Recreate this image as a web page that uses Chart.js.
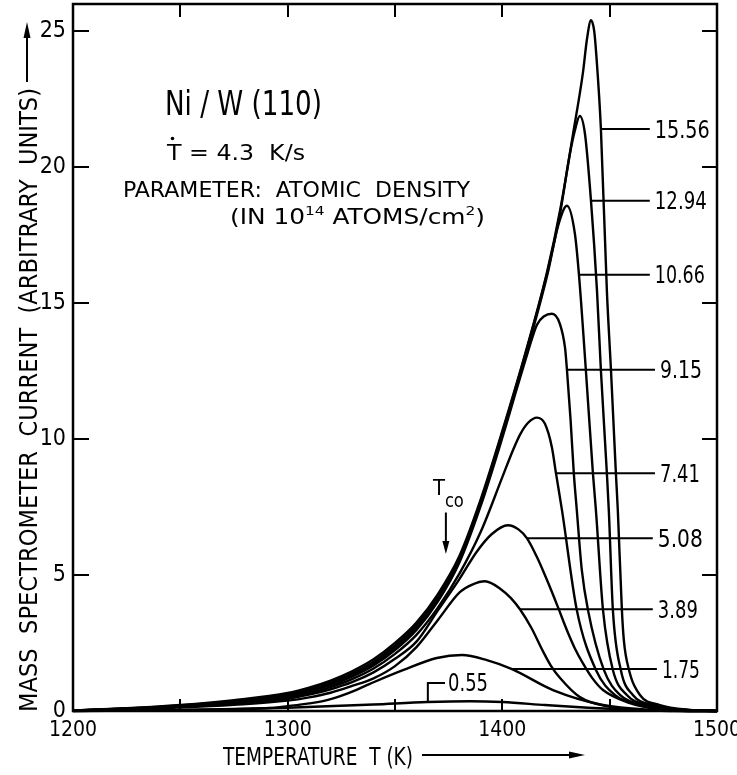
<!DOCTYPE html>
<html>
<head>
<meta charset="utf-8">
<script src="https://cdn.jsdelivr.net/npm/chart.js@4.4.1/dist/chart.umd.min.js"></script>
<style>
  html, body { margin: 0; padding: 0; background: #fff; }
  #c { display: block; }
</style>
</head>
<body>
<canvas id="c" width="737" height="775"></canvas>
<script>
// Thermal desorption spectra of Ni from W(110); heating rate 4.3 K/s.
// One curve per initial Ni coverage (10^14 atoms/cm^2).
const coverages = ['15.56', '12.94', '10.66', '9.15', '7.41', '5.08', '3.89', '1.75', '0.55'];

const t1556 = [1200, 1225, 1250, 1275, 1300, 1310, 1320, 1330, 1340, 1350, 1360, 1370, 1380, 1390, 1400, 1410.5, 1421, 1427, 1433, 1437.5, 1439.5, 1441.3, 1442.8, 1443.8, 1445.9, 1448.7, 1450.6, 1452.9, 1453.8, 1455.7, 1456.6, 1459.0, 1464.1, 1473.4, 1487.4, 1500];
const i1556 = [0.02, 0.10, 0.22, 0.40, 0.66, 0.86, 1.12, 1.46, 1.90, 2.50, 3.25, 4.30, 5.70, 7.80, 10.30, 13.10, 16.20, 18.45, 21.25, 23.45, 24.75, 25.40, 25.00, 24.10, 21.44, 15.45, 12.55, 8.74, 7.38, 3.71, 2.61, 1.51, 0.59, 0.22, 0.04, 0.0];

const t1294 = [1200, 1225, 1250, 1275, 1300, 1310, 1320, 1330, 1340, 1350, 1360, 1370, 1380, 1390, 1400, 1410.5, 1421, 1427, 1431.5, 1433.8, 1436.1, 1438.5, 1441.3, 1444.1, 1445.9, 1448.7, 1449.6, 1451.5, 1455.2, 1460.8, 1470.1, 1486.4, 1500];
const i1294 = [0.02, 0.09, 0.20, 0.37, 0.61, 0.80, 1.05, 1.38, 1.81, 2.40, 3.15, 4.20, 5.62, 7.73, 10.24, 13.05, 16.15, 18.35, 20.50, 21.35, 21.88, 21.22, 18.76, 15.45, 12.55, 8.74, 7.38, 3.71, 1.51, 0.59, 0.22, 0.04, 0.0];

const t1066 = [1200, 1225, 1250, 1275, 1300, 1310, 1320, 1330, 1340, 1350, 1360, 1370, 1380, 1390, 1400, 1410.5, 1421, 1426.0, 1430.1, 1433.8, 1435.7, 1438.9, 1442.2, 1443.6, 1446.9, 1451.5, 1458.0, 1467.8, 1485.0, 1500];
const i1066 = [0.02, 0.09, 0.19, 0.35, 0.58, 0.76, 1.00, 1.32, 1.74, 2.32, 3.07, 4.12, 5.55, 7.66, 10.17, 12.98, 16.05, 17.85, 18.58, 17.55, 16.04, 12.55, 8.74, 7.38, 3.71, 1.51, 0.59, 0.22, 0.04, 0.0];

const t915 = [1200, 1225, 1250, 1275, 1300, 1310, 1320, 1330, 1340, 1350, 1360, 1370, 1380, 1390, 1400, 1407.3, 1411.5, 1416.1, 1419.5, 1423.1, 1426.8, 1429.2, 1430.1, 1431.8, 1433.3, 1434.7, 1437.0, 1439.9, 1447.3, 1454.8, 1466.4, 1482.7, 1500];
const i915 = [0.02, 0.08, 0.18, 0.33, 0.55, 0.72, 0.95, 1.26, 1.67, 2.24, 2.98, 4.03, 5.46, 7.56, 10.05, 12.00, 13.10, 14.20, 14.52, 14.61, 14.24, 13.36, 12.55, 10.70, 8.74, 7.38, 5.20, 3.71, 1.51, 0.59, 0.22, 0.04, 0.0];

const t741 = [1200, 1225, 1250, 1275, 1300, 1310, 1320, 1330, 1340, 1350, 1360, 1370, 1380, 1390, 1400, 1405, 1408.5, 1412, 1416.1, 1419.8, 1423.1, 1425.0, 1427.8, 1434.7, 1443.6, 1452.4, 1464.1, 1480.4, 1500];
const i741 = [0.02, 0.08, 0.17, 0.31, 0.50, 0.66, 0.88, 1.17, 1.56, 2.10, 2.80, 3.80, 5.05, 6.60, 8.60, 9.60, 10.20, 10.60, 10.79, 10.57, 9.69, 8.74, 7.38, 3.71, 1.51, 0.59, 0.22, 0.04, 0.0];

const t508 = [1200, 1225, 1250, 1275, 1300, 1310, 1320, 1330, 1340, 1350, 1360, 1370, 1380, 1388, 1395, 1402.6, 1407.5, 1411.5, 1416.5, 1422.2, 1426, 1430.1, 1433.8, 1437.5, 1442, 1446.9, 1459.4, 1472.0, 1487.4, 1500];
const i508 = [0.01, 0.07, 0.16, 0.28, 0.45, 0.60, 0.80, 1.06, 1.42, 1.92, 2.55, 3.70, 4.85, 5.85, 6.50, 6.83, 6.68, 6.35, 5.60, 4.55, 3.80, 2.97, 2.30, 1.76, 1.20, 0.77, 0.29, 0.07, 0.0, 0.0];

const t389 = [1200, 1225, 1250, 1275, 1300, 1310, 1320, 1330, 1340, 1350, 1360, 1370, 1380.2, 1386.0, 1391.9, 1399.0, 1404.0, 1408.2, 1413.5, 1418.9, 1422.5, 1426.8, 1436.1, 1450.1, 1462.7, 1478.1, 1500];
const i389 = [0.01, 0.06, 0.13, 0.23, 0.38, 0.50, 0.67, 0.92, 1.20, 1.65, 2.35, 3.35, 4.37, 4.65, 4.77, 4.50, 4.15, 3.74, 3.06, 2.20, 1.68, 1.22, 0.51, 0.15, 0.04, 0.0, 0.0];

const t175 = [1200, 1250, 1275, 1291.8, 1300, 1310, 1318.3, 1328, 1338.3, 1353.7, 1369.5, 1381.2, 1392.8, 1404.5, 1423.6, 1446.9, 1470.1, 1487.4, 1500];
const i175 = [0.0, 0.04, 0.07, 0.11, 0.18, 0.28, 0.40, 0.65, 1.00, 1.50, 1.95, 2.06, 1.87, 1.54, 0.77, 0.22, 0.04, 0.0, 0.0];

const t055 = [1200, 1250, 1300, 1340, 1365, 1385, 1400, 1420, 1440, 1460, 1480, 1500];
const i055 = [0.0, 0.03, 0.12, 0.24, 0.33, 0.36, 0.33, 0.22, 0.12, 0.05, 0.01, 0.0];

// Current level at which each coverage label's leader line meets its curve
const labelLevels = [21.40, 18.76, 16.04, 12.55, 8.74, 6.35, 3.74, 1.54];

const xTicks = [1200, 1300, 1400, 1500];
const xMarks = [1200, 1250, 1300, 1350, 1400, 1450, 1500];
const yTicks = [0, 5, 10, 15, 20, 25];

const FONT = "'DejaVu Sans Condensed', 'DejaVu Sans', sans-serif";

const seriesT = [t1556, t1294, t1066, t915, t741, t508, t389, t175, t055];
const seriesI = [i1556, i1294, i1066, i915, i741, i508, i389, i175, i055];

const datasets = coverages.map((c, k) => ({
  label: c,
  data: seriesT[k].map((t, i) => ({ x: t, y: seriesI[k][i] })),
  borderColor: '#000',
  borderWidth: 2.4,
  pointRadius: 0,
  fill: false,
  cubicInterpolationMode: 'monotone',
  clip: false
}));

// Draw a run of text segments (with optional superscripts) squeezed to a given width
function drawRich(ctx, segs, x, y, width, size, rot) {
  ctx.save();
  let natural = 0;
  const parts = segs.map(s => {
    const sz = s.sup ? size * 0.62 : size;
    ctx.font = `${sz}px ${FONT}`;
    const w = ctx.measureText(s.t).width;
    natural += w;
    return { t: s.t, sz, w, dy: s.sup ? -size * 0.42 : 0 };
  });
  ctx.translate(x, y);
  if (rot) ctx.rotate(rot);
  ctx.scale(width / natural, 1);
  ctx.textBaseline = 'alphabetic';
  ctx.textAlign = 'left';
  ctx.fillStyle = '#000';
  let cx = 0;
  parts.forEach(p => {
    ctx.font = `${p.sz}px ${FONT}`;
    ctx.fillText(p.t, cx, p.dy);
    cx += p.w;
  });
  ctx.restore();
}

// Where a curve's falling side crosses a given level
function fallingCrossing(ts, vs, level) {
  let peak = 0;
  vs.forEach((v, i) => { if (v > vs[peak]) peak = i; });
  for (let i = peak; i < vs.length - 1; i++) {
    if (vs[i] >= level && vs[i + 1] <= level) {
      const f = (vs[i] - level) / (vs[i] - vs[i + 1]);
      return ts[i] + f * (ts[i + 1] - ts[i]);
    }
  }
  return ts[peak];
}

function arrowHead(ctx, tipX, tipY, dirX, dirY, len, half) {
  const bx = tipX - dirX * len, by = tipY - dirY * len;
  ctx.beginPath();
  ctx.moveTo(tipX, tipY);
  ctx.lineTo(bx - dirY * half, by + dirX * half);
  ctx.lineTo(bx + dirY * half, by - dirX * half);
  ctx.closePath();
  ctx.fill();
}

const decorations = {
  id: 'decorations',
  afterDatasetsDraw(chart) {
    const { ctx, chartArea: a, scales: { x, y } } = chart;
    ctx.save();
    ctx.strokeStyle = '#000';
    ctx.fillStyle = '#000';
    ctx.lineCap = 'butt';

    // frame
    ctx.lineWidth = 2.5;
    ctx.strokeRect(a.left, a.top, a.right - a.left, a.bottom - a.top);

    // inward tick marks on all four sides
    ctx.lineWidth = 2;
    const seg = (x1, y1, x2, y2) => { ctx.beginPath(); ctx.moveTo(x1, y1); ctx.lineTo(x2, y2); ctx.stroke(); };
    x.ticks.forEach(t => {
      if (t.value <= x.min || t.value >= x.max) return;
      const px = Math.round(x.getPixelForValue(t.value));
      seg(px, a.bottom, px, a.bottom - 12);
      seg(px, a.top, px, a.top + 13);
    });
    y.ticks.forEach(t => {
      if (t.value <= y.min) return;
      const py = Math.round(y.getPixelForValue(t.value));
      seg(a.left, py, a.left + 16, py);
      seg(a.right, py, a.right - 15, py);
    });

    // coverage labels with leader lines
    ctx.lineWidth = 2;
    const labelX = [1468.7, 1468.7, 1468.7, 1471.1, 1471.1, 1470.1, 1470.1, 1472.0];
    const labelW = [55, 52, 50, 42, 40, 45, 40, 38];
    labelLevels.forEach((lv, k) => {
      const tStart = fallingCrossing(seriesT[k], seriesI[k], lv);
      const py = y.getPixelForValue(lv);
      const x0 = x.getPixelForValue(tStart);
      const x1 = x.getPixelForValue(labelX[k]);
      seg(x0, py, x1, py);
      drawRich(ctx, [{ t: coverages[k] }], x1 + 5, py + 8.5, labelW[k], 24);
    });

    // lowest coverage: bracket leader
    {
      const xb = x.getPixelForValue(1365.3);
      const yb0 = y.getPixelForValue(0.33);
      const yb1 = y.getPixelForValue(1.03);
      const xe = x.getPixelForValue(1373.3);
      ctx.beginPath();
      ctx.moveTo(xb, yb0); ctx.lineTo(xb, yb1); ctx.lineTo(xe, yb1);
      ctx.stroke();
      drawRich(ctx, [{ t: coverages[8] }], xe + 3, yb1 + 8.5, 40, 24);
    }

    // onset temperature marker
    {
      const xa = x.getPixelForValue(1373.7);
      const ya0 = y.getPixelForValue(7.3);
      const ya1 = y.getPixelForValue(5.77);
      ctx.lineWidth = 2;
      seg(xa, ya0, xa, ya1 - 8);
      arrowHead(ctx, xa, ya1, 0, 1, 13, 3.5);
      drawRich(ctx, [{ t: 'T' }], xa - 13, ya0 - 17, 12, 21);
      drawRich(ctx, [{ t: 'co' }], xa - 1, ya0 - 5, 19, 19);
    }

    // header text block
    drawRich(ctx, [{ t: 'Ni / W (110)' }], 165, 115, 157, 34);
    drawRich(ctx, [{ t: 'T = 4.3  K/s' }], 167, 160, 138, 21);
    ctx.beginPath(); ctx.arc(172.5, 138.5, 1.8, 0, Math.PI * 2); ctx.fill();
    drawRich(ctx, [{ t: 'PARAMETER:  ATOMIC  DENSITY' }], 123, 197, 347, 21);
    drawRich(ctx, [{ t: '(IN 10' }, { t: '14', sup: true }, { t: ' ATOMS/cm' }, { t: '2', sup: true }, { t: ')' }], 230, 224, 255, 21);

    // axis titles with arrows
    drawRich(ctx, [{ t: 'MASS  SPECTROMETER  CURRENT  (ARBITRARY  UNITS)' }], 37, 712, 624, 25, -Math.PI / 2);
    ctx.lineWidth = 2;
    seg(27, 82, 27, 34);
    arrowHead(ctx, 27, 22, 0, -1, 16, 3.5);
    drawRich(ctx, [{ t: 'TEMPERATURE  T (K)' }], 223, 765, 190, 25);
    seg(422, 755, 572, 755);
    arrowHead(ctx, 585, 755, 1, 0, 16, 3.5);

    ctx.restore();
  }
};

new Chart(document.getElementById('c'), {
  type: 'line',
  data: { datasets },
  options: {
    responsive: false,
    animation: false,
    devicePixelRatio: 1,
    layout: { padding: { top: 4, right: 20, left: 0, bottom: 0 } },
    plugins: { legend: { display: false }, tooltip: { enabled: false } },
    scales: {
      x: {
        type: 'linear', min: 1200, max: 1500,
        grid: { display: false, drawTicks: false },
        border: { display: false },
        afterBuildTicks: s => { s.ticks = xMarks.map(v => ({ value: v })); },
        ticks: {
          autoSkip: false, maxRotation: 0, padding: 7, color: '#000',
          font: { family: FONT, size: 21 },
          callback: v => (xTicks.includes(v) ? String(v) : '')
        },
        afterFit: s => { s.height = 64; s.paddingLeft = 0; s.paddingRight = 0; }
      },
      y: {
        type: 'linear', min: 0, max: 26,
        grid: { display: false, drawTicks: false },
        border: { display: false },
        afterBuildTicks: s => { s.ticks = yTicks.map(v => ({ value: v })); },
        ticks: {
          padding: 7, color: '#000',
          font: { family: FONT, size: 23 }
        },
        afterFit: s => { s.width = 73; s.paddingTop = 0; s.paddingBottom = 0; }
      }
    }
  },
  plugins: [decorations]
});
</script>
</body>
</html>
